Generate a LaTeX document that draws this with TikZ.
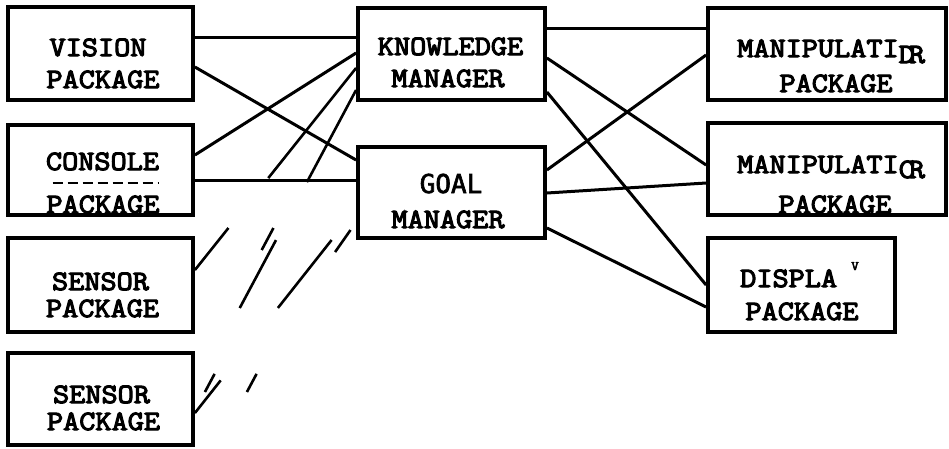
\documentclass[tikz,border=0pt]{standalone}
\usepackage{fontspec}
\usetikzlibrary{calc}
\newfontfamily\tw[FakeStretch=1.12, FakeBold=4]{Latin Modern Mono}
\newfontfamily\gw[FakeBold=2.5]{DejaVu Sans Mono}
\tikzset{
  box/.style={draw, line width=3.8pt, inner sep=0pt, minimum width=185pt},
  wire/.style={line width=3pt},
  frag/.style={line width=2.6pt},
  lbl/.style={anchor=base, inner sep=0pt, font=\tw\fontsize{28}{28}\selectfont},
  glbl/.style={anchor=base, inner sep=0pt, font=\gw\fontsize{26}{26}\selectfont},
}
\begin{document}
\begin{tikzpicture}[x=1pt,y=-1pt]
\useasboundingbox (0,0) rectangle (949,448);
% boxes
\node[box, minimum height=93pt] (vision) at (100.5,53.5) {};
\node[box, minimum height=90pt] (console) at (100.5,170) {};
\node[box, minimum height=94pt] (s1) at (100.5,285) {};
\node[box, minimum height=92pt] (s2) at (100.5,399) {};
\node[box, minimum width=187pt, minimum height=92pt] (km) at (451.5,54) {};
\node[box, minimum width=187pt, minimum height=91pt] (goal) at (451.5,192.5) {};
\node[box, minimum width=238pt, minimum height=92pt] (m1) at (827,54) {};
\node[box, minimum width=238pt, minimum height=92pt] (m2) at (827,169) {};
\node[box, minimum width=187pt, minimum height=94pt] (disp) at (801.5,285) {};
% labels
\node[lbl] (t1a) at (98,56) {VISION};
\node[lbl] (t1b) at (103,88) {PACKAGE};
\node[lbl] (t2a) at (102.5,170) {CONSOLE};
\node[lbl] (t2b) at (103,213) {PACKAGE};
\node[lbl] (t3a) at (100.5,290) {SENSOR};
\node[lbl] (t3b) at (102.5,317) {PACKAGE};
\node[lbl] (t4a) at (101.5,403) {SENSOR};
\node[lbl] (t4b) at (103.5,430) {PACKAGE};
\node[lbl] (t5a) at (450.5,55) {KNOWLEDGE};
\node[lbl] (t5b) at (448,87) {MANAGER};
\node[glbl] (t6a) at (451,193) {GOAL};
\node[lbl] (t6b) at (448,228) {MANAGER};
\node[lbl, anchor=base west] (t7a) at (737,57) {MANIPULATI\raisebox{-6pt}{D\kern-6ptR}};
\node[lbl] (t7b) at (836,92) {PACKAGE};
\node[lbl, anchor=base west] (t8a) at (737,173) {MANIPULATI\raisebox{-5pt}{C\kern-6ptR}};
\node[lbl] (t8b) at (835,213) {PACKAGE};
\node[lbl, anchor=base west] (t9a) at (740,287) {DISPLA};
\node[anchor=base, inner sep=0pt, font=\tw\fontsize{13}{13}\selectfont] (t9v) at (855,270) {V};
\node[lbl] (t9b) at (802,320) {PACKAGE};
% ghost strip in console box
\draw[line width=1.6pt, dash pattern=on 10pt off 5pt] ([xshift=-48pt,yshift=-13pt]console.center) -- ([xshift=58pt,yshift=-13pt]console.center);
% left connectors
\draw[wire] ([yshift=16.5pt]vision.east) -- ([yshift=17pt]km.west);
\draw[wire] ([yshift=-13.5pt]vision.east) -- ([yshift=32.5pt]goal.west);
\draw[wire] ([yshift=15pt]console.east) -- ([yshift=1pt]km.west);
\draw[wire] ([yshift=-10pt]console.east) -- ([yshift=12.5pt]goal.west);
% broken connectors from sensor packages
\coordinate (s1k) at ([yshift=15pt]s1.east);
\coordinate (km1) at ([yshift=-14pt]km.west);
\coordinate (s2k) at ([yshift=7pt]s2.east);
\coordinate (km2) at ([yshift=-36pt]km.west);
\coordinate (s2g) at ([yshift=-14pt]s2.east);
\coordinate (g3) at ([yshift=-16.5pt]goal.west);
\draw[frag] (s1k) -- ($(s1k)!0.208!(km1)$);
\draw[frag] ($(s1k)!0.455!(km1)$) -- (km1);
\draw[frag] ($(s2k)!0.0!(km2)+(10,0)$) -- ($(s2k)!0.06!(km2)+(10,0)$);
\draw[frag] ($(s2k)!0.0!(km2)+(52,0)$) -- ($(s2k)!0.06!(km2)+(52,0)$);
\draw[frag] ($(s2k)!0.278!(km2)$) -- ($(s2k)!0.503!(km2)$);
\draw[frag] ($(s2k)!0.470!(km2)+(-9,0)$) -- ($(s2k)!0.543!(km2)+(-9,0)$);
\draw[frag] ($(s2k)!0.695!(km2)$) -- (km2);
\draw[frag] (s2g) -- ($(s2g)!0.16!(g3)$);
\draw[frag] ($(s2g)!0.515!(g3)$) -- ($(s2g)!0.848!(g3)$);
\draw[frag] ($(s2g)!0.789!(g3)+(13,0)$) -- ($(s2g)!0.897!(g3)+(11,0)$);
% right connectors
\draw[wire] ([yshift=26pt]km.east) -- ([yshift=26pt]m1.west);
\draw[wire] ([yshift=-4pt]km.east) -- ([yshift=4pt]m2.west);
\draw[wire] ([yshift=-38pt]km.east) -- (disp.west);
\draw[wire] ([yshift=22.5pt]goal.east) -- ([yshift=-1pt]m1.west);
\draw[wire] ([yshift=-0.5pt]goal.east) -- ([yshift=-14pt]m2.west);
\draw[wire] ([yshift=-35.5pt]goal.east) -- ([yshift=-22pt]disp.west);
\end{tikzpicture}
\end{document}
